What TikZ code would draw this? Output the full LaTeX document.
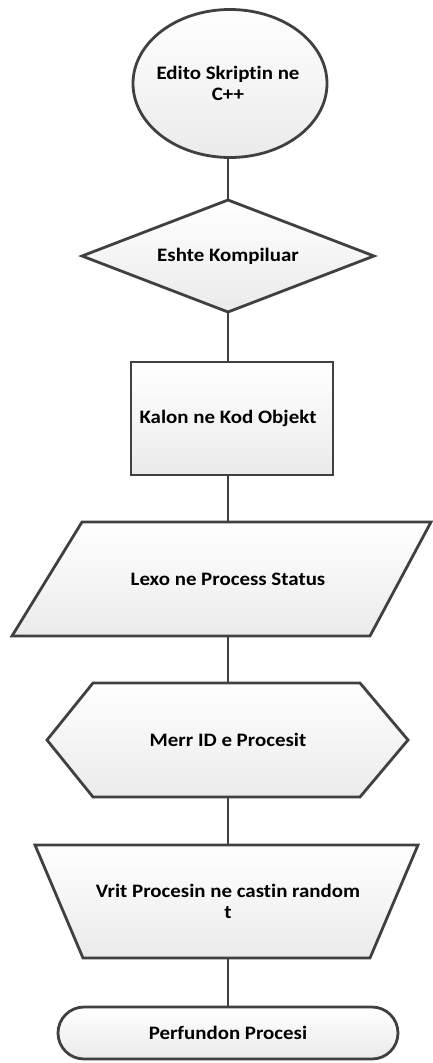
\documentclass[tikz,border=0pt]{standalone}
\usepackage{fontspec}
\setmainfont{Carlito}[Ligatures=NoCommon, FakeStretch=1.1]
\definecolor{edge}{RGB}{64,64,64}
\tikzset{
 shp/.style={draw=edge, line width=2.8pt, top color=white, bottom color=black!8, line join=miter},
 lbl/.style={inner sep=0pt, outer sep=0pt, font=\bfseries\fontsize{19}{21}\selectfont, align=center, text=black},
 conn/.style={draw=edge, line width=2.8pt}
}
\begin{document}
\begin{tikzpicture}[x=1pt,y=-1pt]
\useasboundingbox (0,0) rectangle (433,1063);
% shapes
\path[shp] (230,83.5) ellipse [x radius=97, y radius=74];
\node[lbl, minimum height=148] (n1) at (228,83.5) {Edito Skriptin ne\\C++};
\path[shp] (228,200) -- (374,256) -- (228,312) -- (82,256) -- cycle;
\node[lbl, minimum height=112] (n2) at (228,256) {Eshte Kompiluar};
\path[shp] (131,362) rectangle (333,475);
\node[lbl, minimum height=113] (n3) at (228,418.5) {Kalon ne Kod Objekt};
\path[shp] (82,522) -- (431,522) -- (370,636) -- (12,636) -- cycle;
\node[lbl, minimum height=114] (n4) at (228,579) {Lexo ne Process Status};
\path[shp] (93,683) -- (360,683) -- (408,740) -- (360,797) -- (93,797) -- (47,740) -- cycle;
\node[lbl, minimum height=114] (n5) at (228,740) {Merr ID e Procesit};
\path[shp] (35,845) -- (418,845) -- (370,958) -- (83,958) -- cycle;
\node[lbl, minimum height=113] (n6) at (228,901.5) {Vrit Procesin ne castin random\\t};
\path[shp, rounded corners=26pt] (58,1007) rectangle (398,1059);
\node[lbl, minimum height=52] (n7) at (228,1033) {Perfundon Procesi};
% connectors
\draw[conn] (n1.south) -- (n2.north);
\draw[conn] (n2.south) -- (n3.north);
\draw[conn] (n3.south) -- (n4.north);
\draw[conn] (n4.south) -- (n5.north);
\draw[conn] (n5.south) -- (n6.north);
\draw[conn] (n6.south) -- (n7.north);
\end{tikzpicture}
\end{document}
